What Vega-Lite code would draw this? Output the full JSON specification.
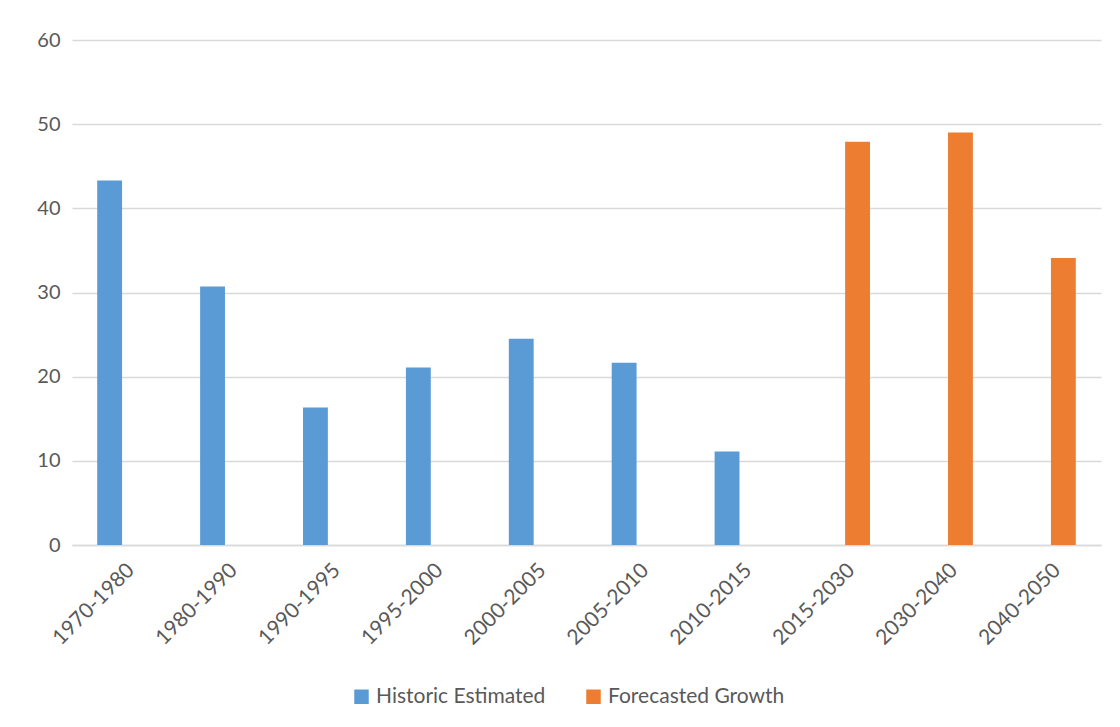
{
  "$schema": "https://vega.github.io/schema/vega-lite/v6.json",
  "width": 1029,
  "height": 505,
  "autosize": {"type": "none"},
  "padding": {"left": 72, "top": 40, "right": 19, "bottom": 182},
  "background": "white",
  "data": {
    "values": [
      {"period": "1970-1980", "series": "Historic Estimated", "value": 43.3},
      {"period": "1980-1990", "series": "Historic Estimated", "value": 30.7},
      {"period": "1990-1995", "series": "Historic Estimated", "value": 16.35},
      {"period": "1995-2000", "series": "Historic Estimated", "value": 21.1},
      {"period": "2000-2005", "series": "Historic Estimated", "value": 24.5},
      {"period": "2005-2010", "series": "Historic Estimated", "value": 21.65},
      {"period": "2010-2015", "series": "Historic Estimated", "value": 11.1},
      {"period": "2015-2030", "series": "Forecasted Growth", "value": 47.9},
      {"period": "2030-2040", "series": "Forecasted Growth", "value": 49.0},
      {"period": "2040-2050", "series": "Forecasted Growth", "value": 34.1}
    ]
  },
  "mark": {"type": "bar"},
  "encoding": {
    "x": {
      "field": "period",
      "type": "nominal",
      "sort": null,
      "scale": {"paddingInner": 0.49, "paddingOuter": 0.245},
      "axis": {
        "title": null,
        "labelAngle": -45,
        "labelFont": "Lato",
        "labelFontSize": 21,
        "labelColor": "#595959",
        "ticks": false,
        "domainColor": "#d9d9d9",
        "domainWidth": 1.5,
        "labelPadding": 14
      }
    },
    "xOffset": {
      "field": "series",
      "type": "nominal",
      "sort": ["Historic Estimated", "Forecasted Growth"],
      "scale": {"paddingInner": 0.1}
    },
    "y": {
      "field": "value",
      "type": "quantitative",
      "scale": {"domain": [0, 60]},
      "axis": {
        "title": null,
        "values": [0, 10, 20, 30, 40, 50, 60],
        "labelFont": "Lato",
        "labelFontSize": 20,
        "labelColor": "#595959",
        "ticks": false,
        "domain": false,
        "gridColor": "#d9d9d9",
        "gridWidth": 1.5,
        "labelPadding": 12
      }
    },
    "color": {
      "field": "series",
      "type": "nominal",
      "sort": ["Historic Estimated", "Forecasted Growth"],
      "scale": {"domain": ["Historic Estimated", "Forecasted Growth"], "range": ["#5b9bd5", "#ed7d31"]},
      "legend": {
        "title": null,
        "orient": "none",
        "legendX": 279,
        "legendY": 646,
        "direction": "horizontal",
        "symbolType": "square",
        "symbolSize": 210,
        "symbolStrokeWidth": 0,
        "labelOffset": 4,
        "labelLimit": 400,
        "labelFont": "Lato",
        "labelFontSize": 21,
        "labelColor": "#595959",
        "columnPadding": 37
      }
    }
  },
  "config": {"view": {"stroke": null}}
}
